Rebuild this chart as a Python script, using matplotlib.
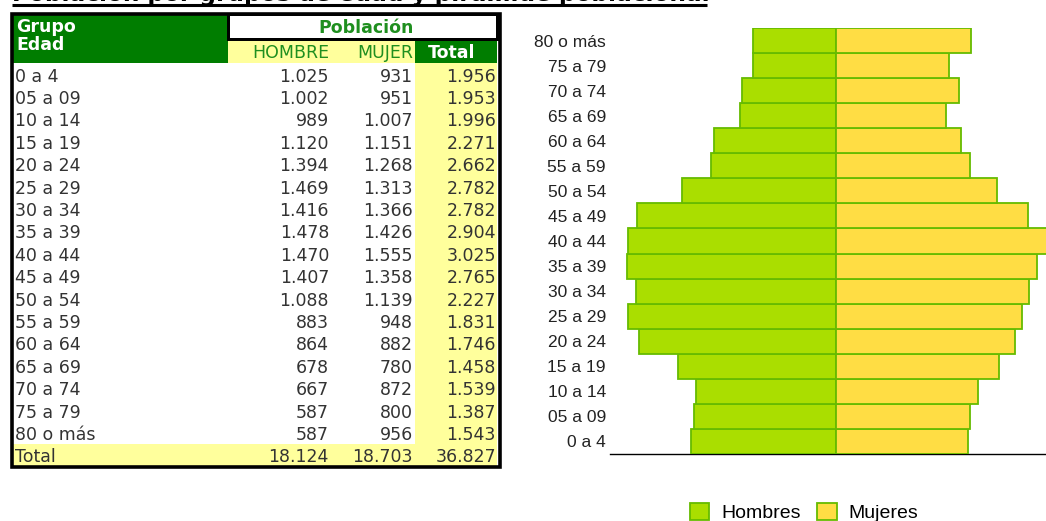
import matplotlib
matplotlib.use("Agg")
import matplotlib.pyplot as plt
from matplotlib.patches import Rectangle

# ---------------- data ----------------
groups = ["0 a 4", "05 a 09", "10 a 14", "15 a 19", "20 a 24", "25 a 29",
          "30 a 34", "35 a 39", "40 a 44", "45 a 49", "50 a 54", "55 a 59",
          "60 a 64", "65 a 69", "70 a 74", "75 a 79", "80 o más"]
hombre = [1025, 1002, 989, 1120, 1394, 1469, 1416, 1478, 1470, 1407, 1088,
          883, 864, 678, 667, 587, 587]
mujer = [931, 951, 1007, 1151, 1268, 1313, 1366, 1426, 1555, 1358, 1139,
         948, 882, 780, 872, 800, 956]
total = [1956, 1953, 1996, 2271, 2662, 2782, 2782, 2904, 3025, 2765, 2227,
         1831, 1746, 1458, 1539, 1387, 1543]
tot_hombre, tot_mujer, tot_total = 18124, 18703, 36827

title = "Población por grupos de edad y pirámide poblacional"
header_group = ["Grupo", "Edad"]
header_pop = "Población"
col_headers = ["HOMBRE", "MUJER", "Total"]
legend_labels = ["Hombres", "Mujeres"]


def fmt(v):
    return f"{v:,}".replace(",", ".")


W, H = 1046, 521
fig = plt.figure(figsize=(W / 100, H / 100), dpi=100)

# background axes in pixel coordinates (for the table)
bg = fig.add_axes([0, 0, 1, 1])
bg.set_xlim(0, W)
bg.set_ylim(H, 0)
bg.axis("off")

GREEN = "#007d00"
PALE = "#ffff9c"
TXT = "#333333"
HGREEN = "#1f8f1f"
FS = 12.5
FAM = "DejaVu Sans"

# title (clipped at top, as in the reference)
t = bg.text(12, 0.5, title, fontsize=20, fontweight="bold", family=FAM,
            ha="left", va="baseline", color="black")
fig.canvas.draw()
ext = t.get_window_extent()
t.set_fontsize(20 * 695 / ext.width)
bg.plot([12, 707], [4.5, 4.5], color="black", lw=2.2, solid_capstyle="butt")

# table frame
bg.add_patch(Rectangle((10, 12), 492, 456, facecolor="white",
                       edgecolor="none", zorder=1))
# header blocks
bg.add_patch(Rectangle((12, 14), 216, 49, facecolor=GREEN, edgecolor="none", zorder=2))
bg.add_patch(Rectangle((227, 13), 272, 28, facecolor="black", edgecolor="none", zorder=2))
bg.add_patch(Rectangle((230, 16), 266, 22, facecolor="white", edgecolor="none", zorder=3))
bg.add_patch(Rectangle((228, 41), 187, 22, facecolor=PALE, edgecolor="none", zorder=2))
bg.add_patch(Rectangle((415, 41), 82, 22, facecolor=GREEN, edgecolor="none", zorder=2))
# total column and total row
row_h = 22.4
top0 = 63
n = len(groups)
bg.add_patch(Rectangle((415, top0), 82, row_h * n, facecolor=PALE,
                       edgecolor="none", zorder=2))
bg.add_patch(Rectangle((12, top0 + row_h * n), 485, 22.5, facecolor=PALE,
                       edgecolor="none", zorder=2))
# outer border
bg.add_patch(Rectangle((11.5, 13.5), 488.5, 453, facecolor="none",
                       edgecolor="black", lw=2.6, zorder=5))

# header texts
bg.text(16, 27, header_group[0], color="white", fontsize=FS, fontweight="bold",
        family=FAM, ha="left", va="center", zorder=6)
bg.text(16, 45, header_group[1], color="white", fontsize=FS, fontweight="bold",
        family=FAM, ha="left", va="center", zorder=6)
bg.text(366, 28, header_pop, color=HGREEN, fontsize=FS, fontweight="bold",
        family=FAM, ha="center", va="center", zorder=6)
bg.text(329, 52.5, col_headers[0], color=HGREEN, fontsize=FS, family=FAM,
        ha="right", va="center", zorder=6)
bg.text(413, 52.5, col_headers[1], color=HGREEN, fontsize=FS, family=FAM,
        ha="right", va="center", zorder=6)
bg.text(452, 52.5, col_headers[2], color="white", fontsize=FS, fontweight="bold",
        family=FAM, ha="center", va="center", zorder=6)

xs_right = [329, 413, 496]
for i, g in enumerate(groups):
    yb = top0 + row_h * i + 18.5
    bg.text(15, yb, g, color=TXT, fontsize=FS, family=FAM, ha="left",
            va="baseline", zorder=6)
    for x, v in zip(xs_right, (hombre[i], mujer[i], total[i])):
        bg.text(x, yb, fmt(v), color=TXT, fontsize=FS, family=FAM,
                ha="right", va="baseline", zorder=6)
yb = top0 + row_h * n + 17.8
bg.text(15, yb, "Total", color=TXT, fontsize=FS, family=FAM, ha="left",
        va="baseline", zorder=6)
for x, v in zip(xs_right, (tot_hombre, tot_mujer, tot_total)):
    bg.text(x, yb, fmt(v), color=TXT, fontsize=FS, family=FAM, ha="right",
            va="baseline", zorder=6)

# ---------------- pyramid ----------------
left_px, right_px, top_px, bot_px = 610, 1046, 28, 454
ax = fig.add_axes([left_px / W, (H - bot_px) / H, (right_px - left_px) / W,
                   (bot_px - top_px) / H])
scale = 0.1413  # px per person
center_px = 836
ax.set_xlim(-(center_px - left_px) / scale, (right_px - center_px) / scale)
ax.set_ylim(-0.5, n - 0.5)
ypos = list(range(n))
bm = ax.barh(ypos, [-v for v in hombre], height=1.0, color="#aade00",
             edgecolor="#66bb00", linewidth=1.3, label=legend_labels[0], zorder=3)
bf = ax.barh(ypos, mujer, height=1.0, color="#ffdd44",
             edgecolor="#66bb00", linewidth=1.3, label=legend_labels[1], zorder=3)
ax.set_yticks(ypos)
ax.set_yticklabels(groups, family="Liberation Sans", fontsize=12.5, color="#222222")
ax.tick_params(axis="y", length=0, pad=3)
ax.set_xticks([])
for s in ("top", "right", "left"):
    ax.spines[s].set_visible(False)
ax.spines["bottom"].set_color("black")
ax.spines["bottom"].set_linewidth(1.0)
ax.set_facecolor("none")

leg = fig.legend(handles=[bm, bf], labels=legend_labels, loc="upper left",
                 bbox_to_anchor=(690 / W, 1 - 503 / H), ncol=2, frameon=False,
                 prop={"family": "Liberation Sans", "size": 14},
                 handlelength=1.0, handleheight=1.0, handletextpad=0.6,
                 columnspacing=0.85, borderpad=0, borderaxespad=0)

fig.savefig("out.png", dpi=100)
